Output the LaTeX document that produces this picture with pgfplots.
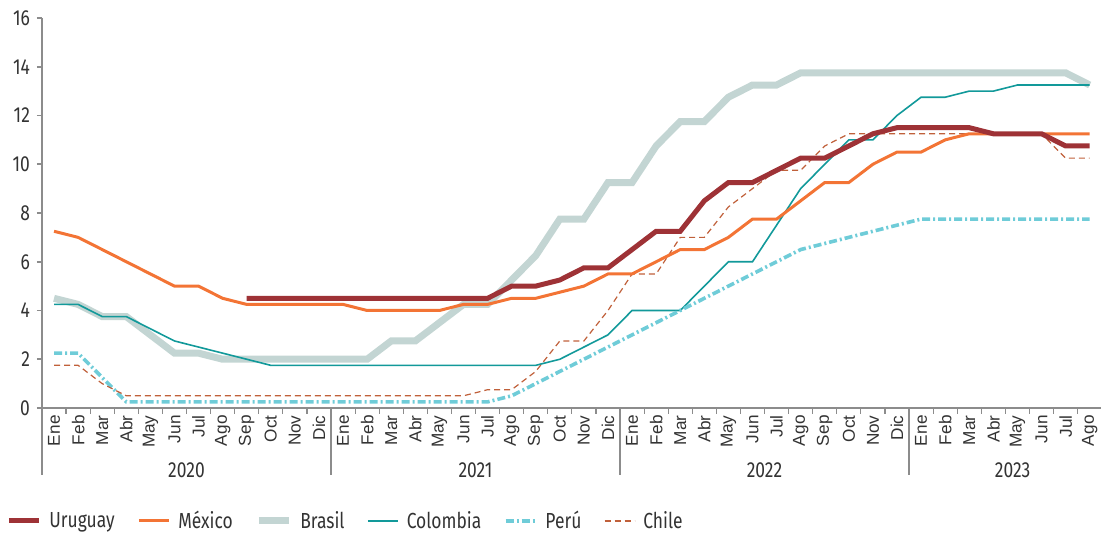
\documentclass[border=0pt]{standalone}
\usepackage{fontspec}
\usepackage{pgfplots}
\pgfplotsset{compat=1.18}
\newfontfamily\condfont{Fira Sans}[FakeStretch=0.8]
\newfontfamily\monthfont{Liberation Sans}
\definecolor{cUru}{HTML}{9E3236}
\definecolor{cMex}{HTML}{F37435}
\definecolor{cBra}{HTML}{C3D5D3}
\definecolor{cCol}{HTML}{12999A}
\definecolor{cPer}{HTML}{6FCCD8}
\definecolor{cChi}{HTML}{C0603A}
\definecolor{axisgray}{HTML}{8C8C8C}
\definecolor{txt}{HTML}{333333}
\begin{document}
\begin{tikzpicture}
\begin{axis}[
  at={(0,0)}, anchor=south west,
  scale only axis, width=529.5pt, height=195pt,
  xmin=-0.5, xmax=43.47, ymin=0, ymax=16,
  clip=false,
  axis x line*=bottom, axis y line*=left,
  axis line style={axisgray, line width=0.8pt, -},
  ytick={0,2,...,16},
  yticklabel style={font=\condfont\fontsize{10.9}{12}\selectfont, text=txt},
  /pgf/number format/assume math mode=true,
  xtick={0,...,43},
  xticklabels={Ene,Feb,Mar,Abr,May,Jun,Jul,Ago,Sep,Oct,Nov,Dic,Ene,Feb,Mar,Abr,May,Jun,Jul,Ago,Sep,Oct,Nov,Dic,Ene,Feb,Mar,Abr,May,Jun,Jul,Ago,Sep,Oct,Nov,Dic,Ene,Feb,Mar,Abr,May,Jun,Jul,Ago},
  xticklabel style={rotate=90, anchor=east, font=\monthfont\fontsize{8.6}{9}\selectfont, text=txt, inner sep=1pt},
  minor xtick={-0.5,0.5,...,43.5},
  tick align=outside,
  major tick length=2.5pt, minor tick length=3pt,
  x tick style={draw=none}, minor x tick style={draw=axisgray, line width=0.6pt},
  y tick style={axisgray, line width=0.8pt},
  legend columns=6,
  legend style={draw=none, fill=none, at={(axis description cs:0,0)}, anchor=west, xshift=-18pt, yshift=-56.5pt,
    font=\condfont\fontsize{10.9}{12}\selectfont, text=txt, inner sep=0pt,
    /tikz/every odd column/.append style={column sep=2pt},
    /tikz/every even column/.append style={column sep=9.3pt}},
  legend image code/.code={\draw[#1] (0pt,0pt) -- (15pt,0pt);},
]
% Brasil
\addplot[cBra, line width=3.5pt, forget plot] coordinates {
(0,4.5)(1,4.25)(2,3.75)(3,3.75)(4,3.0)(5,2.25)(6,2.25)(7,2.0)(8,2.0)(9,2.0)(10,2.0)(11,2.0)
(12,2.0)(13,2.0)(14,2.75)(15,2.75)(16,3.5)(17,4.25)(18,4.25)(19,5.25)(20,6.25)(21,7.75)(22,7.75)(23,9.25)
(24,9.25)(25,10.75)(26,11.75)(27,11.75)(28,12.75)(29,13.25)(30,13.25)(31,13.75)(32,13.75)(33,13.75)(34,13.75)(35,13.75)
(36,13.75)(37,13.75)(38,13.75)(39,13.75)(40,13.75)(41,13.75)(42,13.75)(43,13.25)};
% Colombia
\addplot[cCol, line width=0.8pt, forget plot] coordinates {
(0,4.25)(1,4.25)(2,3.75)(3,3.75)(4,3.25)(5,2.75)(6,2.5)(7,2.25)(8,2.0)(9,1.75)(10,1.75)(11,1.75)
(12,1.75)(13,1.75)(14,1.75)(15,1.75)(16,1.75)(17,1.75)(18,1.75)(19,1.75)(20,1.75)(21,2.0)(22,2.5)(23,3.0)
(24,4.0)(25,4.0)(26,4.0)(27,5.0)(28,6.0)(29,6.0)(30,7.5)(31,9.0)(32,10.0)(33,11.0)(34,11.0)(35,12.0)
(36,12.75)(37,12.75)(38,13.0)(39,13.0)(40,13.25)(41,13.25)(42,13.25)(43,13.25)};
% Peru
\addplot[cPer, line width=1.8pt, dash pattern=on 4pt off 1.5pt on 1pt off 1.5pt, forget plot] coordinates {
(0,2.25)(1,2.25)(2,1.25)(3,0.25)(4,0.25)(5,0.25)(6,0.25)(7,0.25)(8,0.25)(9,0.25)(10,0.25)(11,0.25)
(12,0.25)(13,0.25)(14,0.25)(15,0.25)(16,0.25)(17,0.25)(18,0.25)(19,0.5)(20,1.0)(21,1.5)(22,2.0)(23,2.5)
(24,3.0)(25,3.5)(26,4.0)(27,4.5)(28,5.0)(29,5.5)(30,6.0)(31,6.5)(32,6.75)(33,7.0)(34,7.25)(35,7.5)
(36,7.75)(37,7.75)(38,7.75)(39,7.75)(40,7.75)(41,7.75)(42,7.75)(43,7.75)};
% Chile
\addplot[cChi, line width=0.6pt, dash pattern=on 3pt off 2pt, forget plot] coordinates {
(0,1.75)(1,1.75)(2,1.0)(3,0.5)(4,0.5)(5,0.5)(6,0.5)(7,0.5)(8,0.5)(9,0.5)(10,0.5)(11,0.5)
(12,0.5)(13,0.5)(14,0.5)(15,0.5)(16,0.5)(17,0.5)(18,0.75)(19,0.75)(20,1.5)(21,2.75)(22,2.75)(23,4.0)
(24,5.5)(25,5.5)(26,7.0)(27,7.0)(28,8.25)(29,9.0)(30,9.75)(31,9.75)(32,10.75)(33,11.25)(34,11.25)(35,11.25)
(36,11.25)(37,11.25)(38,11.25)(39,11.25)(40,11.25)(41,11.25)(42,10.25)(43,10.25)};
% Mexico
\addplot[cMex, line width=1.5pt, forget plot] coordinates {
(0,7.25)(1,7.0)(2,6.5)(3,6.0)(4,5.5)(5,5.0)(6,5.0)(7,4.5)(8,4.25)(9,4.25)(10,4.25)(11,4.25)
(12,4.25)(13,4.0)(14,4.0)(15,4.0)(16,4.0)(17,4.25)(18,4.25)(19,4.5)(20,4.5)(21,4.75)(22,5.0)(23,5.5)
(24,5.5)(25,6.0)(26,6.5)(27,6.5)(28,7.0)(29,7.75)(30,7.75)(31,8.5)(32,9.25)(33,9.25)(34,10.0)(35,10.5)
(36,10.5)(37,11.0)(38,11.25)(39,11.25)(40,11.25)(41,11.25)(42,11.25)(43,11.25)};
% Uruguay
\addplot[cUru, line width=2.5pt, forget plot] coordinates {
(8,4.5)(9,4.5)(10,4.5)(11,4.5)
(12,4.5)(13,4.5)(14,4.5)(15,4.5)(16,4.5)(17,4.5)(18,4.5)(19,5.0)(20,5.0)(21,5.25)(22,5.75)(23,5.75)
(24,6.5)(25,7.25)(26,7.25)(27,8.5)(28,9.25)(29,9.25)(30,9.75)(31,10.25)(32,10.25)(33,10.75)(34,11.25)(35,11.5)
(36,11.5)(37,11.5)(38,11.5)(39,11.25)(40,11.25)(41,11.25)(42,10.75)(43,10.75)};
\addlegendimage{cUru, line width=2.5pt}\addlegendentry{Uruguay}
\addlegendimage{cMex, line width=1.5pt}\addlegendentry{México}
\addlegendimage{cBra, line width=3.5pt}\addlegendentry{Brasil}
\addlegendimage{cCol, line width=0.8pt}\addlegendentry{Colombia}
\addlegendimage{cPer, line width=1.8pt, dash pattern=on 4pt off 1.5pt on 1pt off 1.5pt}\addlegendentry{Perú}
\addlegendimage{cChi, line width=0.6pt, dash pattern=on 3pt off 2pt}\addlegendentry{Chile}
\foreach \xx in {-0.5,11.5,23.5,35.5} {
  \edef\tmp{\noexpand\draw[axisgray, line width=0.6pt] (axis cs:\xx,0) -- ++(0pt,-33.5pt);}\tmp
}
\foreach \xx/\yy in {5.5/2020,17.5/2021,29.5/2022,39.8/2023} {
  \edef\tmp{\noexpand\node[font=\noexpand\condfont\noexpand\fontsize{10.9}{12}\noexpand\selectfont, text=txt, inner sep=0pt] at ([yshift=-31pt]axis cs:\xx,0) {\yy};}\tmp
}
\end{axis}
\pgfresetboundingbox
\path (-21pt,-62.5pt) rectangle (529.5pt,204pt);
\end{tikzpicture}
\end{document}
